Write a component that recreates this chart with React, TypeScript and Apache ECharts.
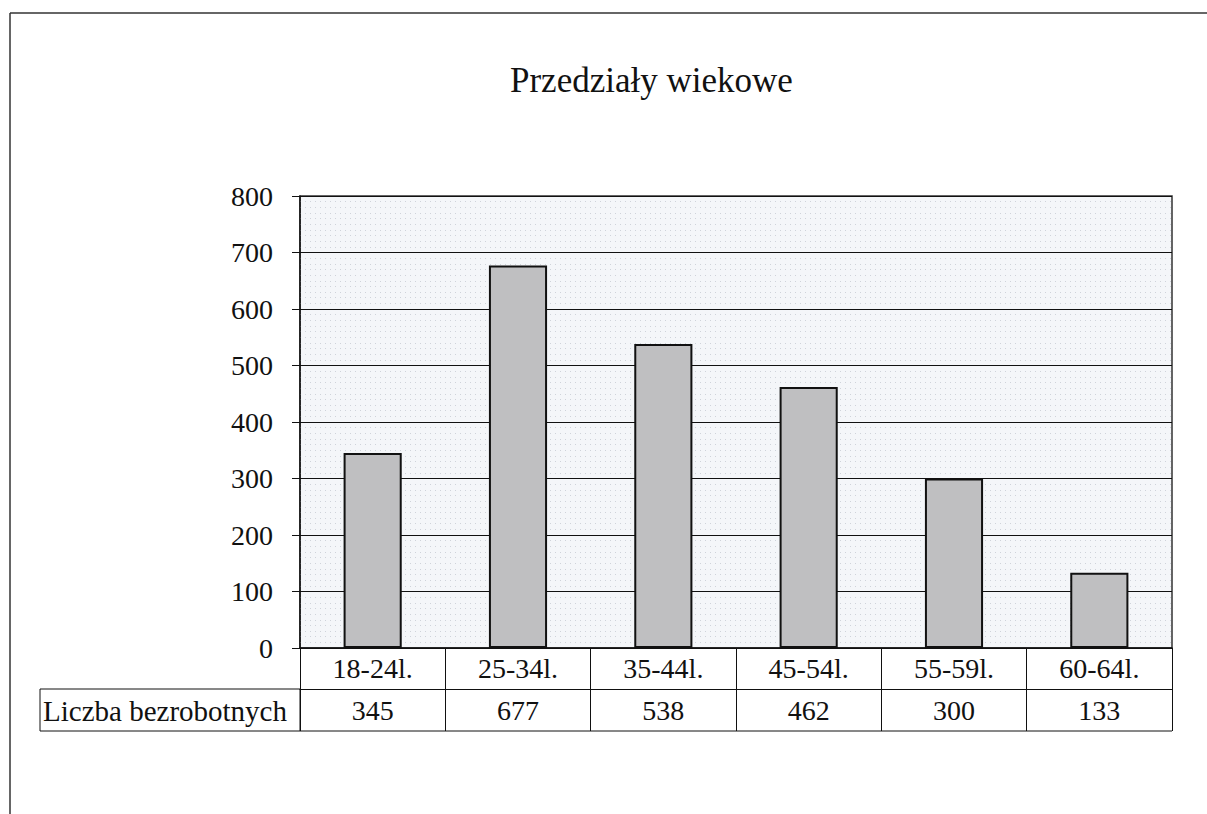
import React, { useEffect, useRef } from "react";
import * as echarts from "echarts";

const title = "Przedziały wiekowe";
const categories = ["18-24l.", "25-34l.", "35-44l.", "45-54l.", "55-59l.", "60-64l."];
const values = [345, 677, 538, 462, 300, 133];
const rowLabel = "Liczba bezrobotnych";
const yMin = 0;
const yMax = 800;
const yInterval = 100;

const FONT = "'Liberation Serif', 'Times New Roman', serif";
const INK = "#111";

export default function App() {
  const ref = useRef<HTMLDivElement>(null);
  useEffect(() => {
    if (!ref.current) return;
    const chart = echarts.init(ref.current, null, { renderer: "svg" });
    const gLeft = 300, gTop = 196, gRight = 1172, gBottom = 648;
    const row = 41;
    chart.setOption({
      animation: false,
      backgroundColor: "#ffffff",
      title: {
        text: title,
        left: 505,
        top: 58,
        textStyle: { fontFamily: FONT, fontSize: 35, fontWeight: "normal", color: INK },
      },
      grid: {
        left: gLeft,
        top: gTop,
        right: 1207 - gRight,
        bottom: 814 - gBottom,
        show: true,
        backgroundColor: "#f4f6f9",
        borderColor: "#333",
        borderWidth: 1.5,
      },
      xAxis: [
        {
          type: "category",
          data: categories,
          position: "bottom",
          axisLine: { show: true, lineStyle: { color: INK, width: 1.5 } },
          axisTick: { show: true, length: row, interval: 0, lineStyle: { color: INK, width: 1 } },
          axisLabel: { interval: 0, margin: 6, fontFamily: FONT, fontSize: 28, color: INK },
          splitLine: { show: false },
        },
        {
          type: "category",
          data: values.map((v) => String(v)),
          position: "bottom",
          offset: row,
          axisLine: { show: true, lineStyle: { color: INK, width: 1 } },
          axisTick: { show: true, length: row + 1, interval: 0, lineStyle: { color: INK, width: 1 } },
          axisLabel: { interval: 0, margin: 7, fontFamily: FONT, fontSize: 28, color: INK },
          splitLine: { show: false },
        },
      ],
      yAxis: {
        type: "value",
        min: yMin,
        max: yMax,
        interval: yInterval,
        axisLine: { show: true, lineStyle: { color: INK, width: 1.5 } },
        axisTick: { show: true, length: 8, lineStyle: { color: INK, width: 1 } },
        axisLabel: { margin: 27, fontFamily: FONT, fontSize: 28, color: INK },
        splitLine: { show: true, lineStyle: { color: INK, width: 1 } },
        minorTick: { show: false, splitNumber: 10 },
        minorSplitLine: { show: true, lineStyle: { color: "#cfd3da", width: 1, type: [1, 4] } },
      },
      series: [
        {
          type: "bar",
          data: values,
          xAxisIndex: 0,
          barWidth: "40%",
          itemStyle: { color: "#bfbfc1", borderColor: INK, borderWidth: 2 },
        },
      ],
      graphic: [
        { type: "line", shape: { x1: 10, y1: 13, x2: 1207, y2: 13 }, style: { stroke: "#333", lineWidth: 1.5 } },
        { type: "line", shape: { x1: 10, y1: 13, x2: 10, y2: 814 }, style: { stroke: "#333", lineWidth: 1.5 } },
        {
          type: "rect",
          shape: { x: 40, y: gBottom + row, width: gLeft - 40, height: row + 1 },
          style: { fill: "none", stroke: INK, lineWidth: 1 },
        },
        {
          type: "line",
          shape: { x1: gLeft, y1: gBottom + 2 * row + 1, x2: gRight, y2: gBottom + 2 * row + 1 },
          style: { stroke: INK, lineWidth: 1 },
        },
        {
          type: "text",
          x: 43,
          y: gBottom + row + row / 2 + 1,
          style: {
            text: rowLabel,
            font: `29px ${FONT}`,
            fill: INK,
            verticalAlign: "middle",
          },
        },
      ],
    });
    return () => chart.dispose();
  }, []);
  return (
    <div
      ref={ref}
      style={{ position: "fixed", left: 0, top: 0, width: 1207, height: 814 }}
    />
  );
}
